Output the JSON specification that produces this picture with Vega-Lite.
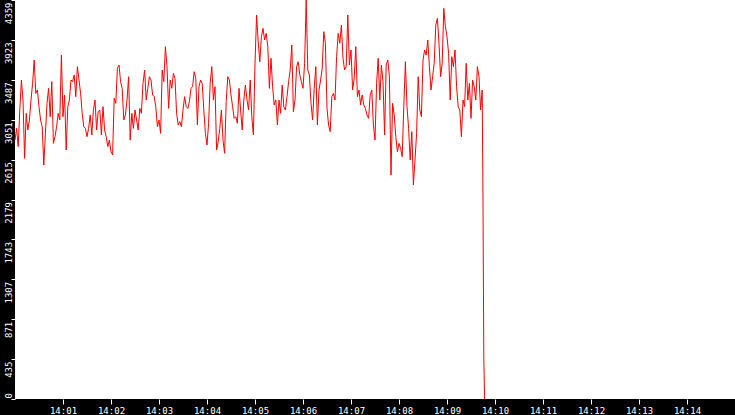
{
  "$schema": "https://vega.github.io/schema/vega-lite/v6.json",
  "description": "Red time series line, 14:00 to 14:15, black axis bands.",
  "width": 720,
  "height": 399,
  "autosize": "none",
  "padding": {"left": 15, "top": 0, "right": 0, "bottom": 16},
  "background": "black",
  "config": {"view": {"fill": "white", "stroke": null}},
  "data": {
    "format": {"parse": {"t": "date:'%H:%M:%S'"}},
    "values": [
      {"t": "14:00:00", "v": 2829}, {"t": "14:00:02", "v": 2957}, {"t": "14:00:04", "v": 2757}, {"t": "14:00:06", "v": 3157},
      {"t": "14:00:08", "v": 3485}, {"t": "14:00:10", "v": 3266}, {"t": "14:00:12", "v": 2629}, {"t": "14:00:14", "v": 3121},
      {"t": "14:00:16", "v": 2939}, {"t": "14:00:18", "v": 3048}, {"t": "14:00:20", "v": 3266}, {"t": "14:00:22", "v": 3449},
      {"t": "14:00:24", "v": 3703}, {"t": "14:00:26", "v": 3339}, {"t": "14:00:28", "v": 3376}, {"t": "14:00:30", "v": 3194},
      {"t": "14:00:32", "v": 3048}, {"t": "14:00:34", "v": 2975}, {"t": "14:00:36", "v": 2556}, {"t": "14:00:38", "v": 2902},
      {"t": "14:00:40", "v": 3230}, {"t": "14:00:42", "v": 3394}, {"t": "14:00:44", "v": 3084}, {"t": "14:00:46", "v": 3467},
      {"t": "14:00:48", "v": 2793}, {"t": "14:00:50", "v": 2866}, {"t": "14:00:52", "v": 2975}, {"t": "14:00:54", "v": 3121},
      {"t": "14:00:56", "v": 3048}, {"t": "14:00:58", "v": 3758}, {"t": "14:01:00", "v": 3084}, {"t": "14:01:02", "v": 3321},
      {"t": "14:01:04", "v": 2720}, {"t": "14:01:06", "v": 3194}, {"t": "14:01:08", "v": 3266}, {"t": "14:01:10", "v": 3485},
      {"t": "14:01:12", "v": 3467}, {"t": "14:01:14", "v": 3540}, {"t": "14:01:16", "v": 3303}, {"t": "14:01:18", "v": 3631},
      {"t": "14:01:20", "v": 3485}, {"t": "14:01:22", "v": 3339}, {"t": "14:01:24", "v": 3121}, {"t": "14:01:26", "v": 2975},
      {"t": "14:01:28", "v": 2957}, {"t": "14:01:30", "v": 2866}, {"t": "14:01:32", "v": 2957}, {"t": "14:01:34", "v": 3103},
      {"t": "14:01:36", "v": 2884}, {"t": "14:01:38", "v": 3157}, {"t": "14:01:40", "v": 3266}, {"t": "14:01:42", "v": 2939},
      {"t": "14:01:44", "v": 3139}, {"t": "14:01:46", "v": 3157}, {"t": "14:01:48", "v": 2884}, {"t": "14:01:50", "v": 3194},
      {"t": "14:01:52", "v": 2939}, {"t": "14:01:54", "v": 2866}, {"t": "14:01:56", "v": 2757}, {"t": "14:01:58", "v": 2829},
      {"t": "14:02:00", "v": 2702}, {"t": "14:02:02", "v": 2666}, {"t": "14:02:04", "v": 3285}, {"t": "14:02:06", "v": 3230},
      {"t": "14:02:08", "v": 3612}, {"t": "14:02:10", "v": 3649}, {"t": "14:02:12", "v": 3467}, {"t": "14:02:14", "v": 3394},
      {"t": "14:02:16", "v": 3048}, {"t": "14:02:18", "v": 3103}, {"t": "14:02:20", "v": 3266}, {"t": "14:02:22", "v": 3521},
      {"t": "14:02:24", "v": 2829}, {"t": "14:02:26", "v": 3121}, {"t": "14:02:28", "v": 2957}, {"t": "14:02:30", "v": 3157},
      {"t": "14:02:32", "v": 3048}, {"t": "14:02:34", "v": 2939}, {"t": "14:02:36", "v": 3175}, {"t": "14:02:38", "v": 3121},
      {"t": "14:02:40", "v": 3449}, {"t": "14:02:42", "v": 3594}, {"t": "14:02:44", "v": 3266}, {"t": "14:02:46", "v": 3394},
      {"t": "14:02:48", "v": 3521}, {"t": "14:02:50", "v": 3485}, {"t": "14:02:52", "v": 3321}, {"t": "14:02:54", "v": 3303},
      {"t": "14:02:56", "v": 3194}, {"t": "14:02:58", "v": 2975}, {"t": "14:03:00", "v": 3048}, {"t": "14:03:02", "v": 2902},
      {"t": "14:03:04", "v": 3594}, {"t": "14:03:06", "v": 3467}, {"t": "14:03:08", "v": 3849}, {"t": "14:03:10", "v": 3631},
      {"t": "14:03:12", "v": 3175}, {"t": "14:03:14", "v": 3485}, {"t": "14:03:16", "v": 3394}, {"t": "14:03:18", "v": 3558},
      {"t": "14:03:20", "v": 3503}, {"t": "14:03:22", "v": 3121}, {"t": "14:03:24", "v": 2993}, {"t": "14:03:26", "v": 3030},
      {"t": "14:03:28", "v": 2975}, {"t": "14:03:30", "v": 3157}, {"t": "14:03:32", "v": 3303}, {"t": "14:03:34", "v": 3194},
      {"t": "14:03:36", "v": 3175}, {"t": "14:03:38", "v": 3248}, {"t": "14:03:40", "v": 3394}, {"t": "14:03:42", "v": 3412},
      {"t": "14:03:44", "v": 3576}, {"t": "14:03:46", "v": 3503}, {"t": "14:03:48", "v": 2993}, {"t": "14:03:50", "v": 3412},
      {"t": "14:03:52", "v": 3485}, {"t": "14:03:54", "v": 3449}, {"t": "14:03:56", "v": 3157}, {"t": "14:03:58", "v": 2902},
      {"t": "14:04:00", "v": 2775}, {"t": "14:04:02", "v": 3012}, {"t": "14:04:04", "v": 3449}, {"t": "14:04:06", "v": 3631},
      {"t": "14:04:08", "v": 3266}, {"t": "14:04:10", "v": 3412}, {"t": "14:04:12", "v": 2720}, {"t": "14:04:14", "v": 2811},
      {"t": "14:04:16", "v": 2957}, {"t": "14:04:18", "v": 3157}, {"t": "14:04:20", "v": 2829}, {"t": "14:04:22", "v": 2684},
      {"t": "14:04:24", "v": 3248}, {"t": "14:04:26", "v": 3521}, {"t": "14:04:28", "v": 3485}, {"t": "14:04:30", "v": 3321},
      {"t": "14:04:32", "v": 3194}, {"t": "14:04:34", "v": 3066}, {"t": "14:04:36", "v": 3084}, {"t": "14:04:38", "v": 3012},
      {"t": "14:04:40", "v": 3394}, {"t": "14:04:42", "v": 3157}, {"t": "14:04:44", "v": 2939}, {"t": "14:04:46", "v": 3266},
      {"t": "14:04:48", "v": 3430}, {"t": "14:04:50", "v": 3266}, {"t": "14:04:52", "v": 3157}, {"t": "14:04:54", "v": 3485},
      {"t": "14:04:56", "v": 3084}, {"t": "14:04:58", "v": 2884}, {"t": "14:05:00", "v": 3667}, {"t": "14:05:02", "v": 4195},
      {"t": "14:05:04", "v": 3904}, {"t": "14:05:06", "v": 3685}, {"t": "14:05:08", "v": 3958}, {"t": "14:05:10", "v": 4049},
      {"t": "14:05:12", "v": 3922}, {"t": "14:05:14", "v": 3995}, {"t": "14:05:16", "v": 3849}, {"t": "14:05:18", "v": 3394},
      {"t": "14:05:20", "v": 3722}, {"t": "14:05:22", "v": 3412}, {"t": "14:05:24", "v": 3212}, {"t": "14:05:26", "v": 3266},
      {"t": "14:05:28", "v": 2993}, {"t": "14:05:30", "v": 3266}, {"t": "14:05:32", "v": 3121}, {"t": "14:05:34", "v": 3430},
      {"t": "14:05:36", "v": 3194}, {"t": "14:05:38", "v": 3157}, {"t": "14:05:40", "v": 3303}, {"t": "14:05:42", "v": 3467},
      {"t": "14:05:44", "v": 3594}, {"t": "14:05:46", "v": 3867}, {"t": "14:05:48", "v": 3139}, {"t": "14:05:50", "v": 3266},
      {"t": "14:05:52", "v": 3631}, {"t": "14:05:54", "v": 3685}, {"t": "14:05:56", "v": 3540}, {"t": "14:05:58", "v": 3467},
      {"t": "14:06:00", "v": 3394}, {"t": "14:06:02", "v": 3667}, {"t": "14:06:04", "v": 4359}, {"t": "14:06:06", "v": 3594},
      {"t": "14:06:08", "v": 3540}, {"t": "14:06:10", "v": 3230}, {"t": "14:06:12", "v": 3048}, {"t": "14:06:14", "v": 3394},
      {"t": "14:06:16", "v": 3631}, {"t": "14:06:18", "v": 2993}, {"t": "14:06:20", "v": 3376}, {"t": "14:06:22", "v": 3485},
      {"t": "14:06:24", "v": 3612}, {"t": "14:06:26", "v": 4013}, {"t": "14:06:28", "v": 3886}, {"t": "14:06:30", "v": 3175},
      {"t": "14:06:32", "v": 2993}, {"t": "14:06:34", "v": 2921}, {"t": "14:06:36", "v": 3303}, {"t": "14:06:38", "v": 3339},
      {"t": "14:06:40", "v": 3266}, {"t": "14:06:42", "v": 3740}, {"t": "14:06:44", "v": 3995}, {"t": "14:06:46", "v": 3886},
      {"t": "14:06:48", "v": 4086}, {"t": "14:06:50", "v": 3722}, {"t": "14:06:52", "v": 3594}, {"t": "14:06:54", "v": 3631},
      {"t": "14:06:56", "v": 4195}, {"t": "14:06:58", "v": 3649}, {"t": "14:07:00", "v": 3813}, {"t": "14:07:02", "v": 3376},
      {"t": "14:07:04", "v": 3503}, {"t": "14:07:06", "v": 3849}, {"t": "14:07:08", "v": 3303}, {"t": "14:07:10", "v": 3376},
      {"t": "14:07:12", "v": 3212}, {"t": "14:07:14", "v": 3321}, {"t": "14:07:16", "v": 3212}, {"t": "14:07:18", "v": 3175},
      {"t": "14:07:20", "v": 3103}, {"t": "14:07:22", "v": 3066}, {"t": "14:07:24", "v": 3321}, {"t": "14:07:26", "v": 3376},
      {"t": "14:07:28", "v": 2993}, {"t": "14:07:30", "v": 2829}, {"t": "14:07:32", "v": 3449}, {"t": "14:07:34", "v": 3722},
      {"t": "14:07:36", "v": 3266}, {"t": "14:07:38", "v": 3649}, {"t": "14:07:40", "v": 3467}, {"t": "14:07:42", "v": 2884},
      {"t": "14:07:44", "v": 3649}, {"t": "14:07:46", "v": 3703}, {"t": "14:07:48", "v": 3521}, {"t": "14:07:50", "v": 2447},
      {"t": "14:07:52", "v": 3230}, {"t": "14:07:54", "v": 3103}, {"t": "14:07:56", "v": 2866}, {"t": "14:07:58", "v": 2702},
      {"t": "14:08:00", "v": 2793}, {"t": "14:08:02", "v": 2738}, {"t": "14:08:04", "v": 2647}, {"t": "14:08:06", "v": 3194},
      {"t": "14:08:08", "v": 3685}, {"t": "14:08:10", "v": 3194}, {"t": "14:08:12", "v": 2957}, {"t": "14:08:14", "v": 2611},
      {"t": "14:08:16", "v": 2921}, {"t": "14:08:18", "v": 2338}, {"t": "14:08:20", "v": 2611}, {"t": "14:08:22", "v": 2902},
      {"t": "14:08:24", "v": 3521}, {"t": "14:08:26", "v": 3157}, {"t": "14:08:28", "v": 3084}, {"t": "14:08:30", "v": 3703},
      {"t": "14:08:32", "v": 3813}, {"t": "14:08:34", "v": 3758}, {"t": "14:08:36", "v": 3922}, {"t": "14:08:38", "v": 3631},
      {"t": "14:08:40", "v": 3376}, {"t": "14:08:42", "v": 3521}, {"t": "14:08:44", "v": 3667}, {"t": "14:08:46", "v": 4086},
      {"t": "14:08:48", "v": 4159}, {"t": "14:08:50", "v": 3886}, {"t": "14:08:52", "v": 3521}, {"t": "14:08:54", "v": 3667},
      {"t": "14:08:56", "v": 4268}, {"t": "14:08:58", "v": 4068}, {"t": "14:09:00", "v": 3958}, {"t": "14:09:02", "v": 3776},
      {"t": "14:09:04", "v": 3266}, {"t": "14:09:06", "v": 3740}, {"t": "14:09:08", "v": 3631}, {"t": "14:09:10", "v": 3813},
      {"t": "14:09:12", "v": 3412}, {"t": "14:09:14", "v": 3194}, {"t": "14:09:16", "v": 3157}, {"t": "14:09:18", "v": 2866},
      {"t": "14:09:20", "v": 3266}, {"t": "14:09:22", "v": 3194}, {"t": "14:09:24", "v": 3667}, {"t": "14:09:26", "v": 3266},
      {"t": "14:09:28", "v": 3449}, {"t": "14:09:30", "v": 3066}, {"t": "14:09:32", "v": 3485}, {"t": "14:09:34", "v": 3412},
      {"t": "14:09:36", "v": 3266}, {"t": "14:09:38", "v": 3631}, {"t": "14:09:40", "v": 3521}, {"t": "14:09:42", "v": 3157},
      {"t": "14:09:44", "v": 3376}, {"t": "14:09:45", "v": 2141}, {"t": "14:09:46", "v": 459}, {"t": "14:09:47", "v": 0}
    ]
  },
  "mark": {"type": "line", "color": "#ff0000", "strokeWidth": 1, "interpolate": "linear"},
  "encoding": {
    "x": {
      "field": "t",
      "type": "temporal",
      "scale": {
        "domain": [
          {"year": 1900, "month": 1, "date": 1, "hours": 14, "minutes": 0},
          {"year": 1900, "month": 1, "date": 1, "hours": 14, "minutes": 15}
        ]
      },
      "axis": {
        "title": null,
        "grid": false,
        "domain": false,
        "format": "%H:%M",
        "values": [
          {"year": 1900, "month": 1, "date": 1, "hours": 14, "minutes": 1},
          {"year": 1900, "month": 1, "date": 1, "hours": 14, "minutes": 2},
          {"year": 1900, "month": 1, "date": 1, "hours": 14, "minutes": 3},
          {"year": 1900, "month": 1, "date": 1, "hours": 14, "minutes": 4},
          {"year": 1900, "month": 1, "date": 1, "hours": 14, "minutes": 5},
          {"year": 1900, "month": 1, "date": 1, "hours": 14, "minutes": 6},
          {"year": 1900, "month": 1, "date": 1, "hours": 14, "minutes": 7},
          {"year": 1900, "month": 1, "date": 1, "hours": 14, "minutes": 8},
          {"year": 1900, "month": 1, "date": 1, "hours": 14, "minutes": 9},
          {"year": 1900, "month": 1, "date": 1, "hours": 14, "minutes": 10},
          {"year": 1900, "month": 1, "date": 1, "hours": 14, "minutes": 11},
          {"year": 1900, "month": 1, "date": 1, "hours": 14, "minutes": 12},
          {"year": 1900, "month": 1, "date": 1, "hours": 14, "minutes": 13},
          {"year": 1900, "month": 1, "date": 1, "hours": 14, "minutes": 14}
        ],
        "tickColor": "white",
        "tickSize": 5,
        "labelColor": "white",
        "labelFont": "DejaVu Sans Mono",
        "labelFontSize": 9,
        "labelPadding": 2,
        "labelFlush": false,
        "labelOverlap": false
      }
    },
    "y": {
      "field": "v",
      "type": "quantitative",
      "scale": {"domain": [0, 4359], "nice": false, "zero": true},
      "axis": {
        "title": null,
        "grid": false,
        "domain": false,
        "values": [0, 435.9, 871.8, 1307.7, 1743.6, 2179.5, 2615.4, 3051.3, 3487.2, 3923.1, 4359],
        "labelExpr": "floor(datum.value)",
        "tickColor": "white",
        "tickSize": 4,
        "labelColor": "white",
        "labelFont": "DejaVu Sans Mono",
        "labelFontSize": 9,
        "labelAngle": 270,
        "labelAlign": {"condition": {"test": "datum.value == 0", "value": "left"}, "value": "right"},
        "labelBaseline": "alphabetic",
        "labelOffset": {"condition": {"test": "datum.value == 0", "value": -1}, "value": 2},
        "labelPadding": 0,
        "labelFlush": false,
        "labelOverlap": false,
        "labelBound": false
      }
    }
  }
}
